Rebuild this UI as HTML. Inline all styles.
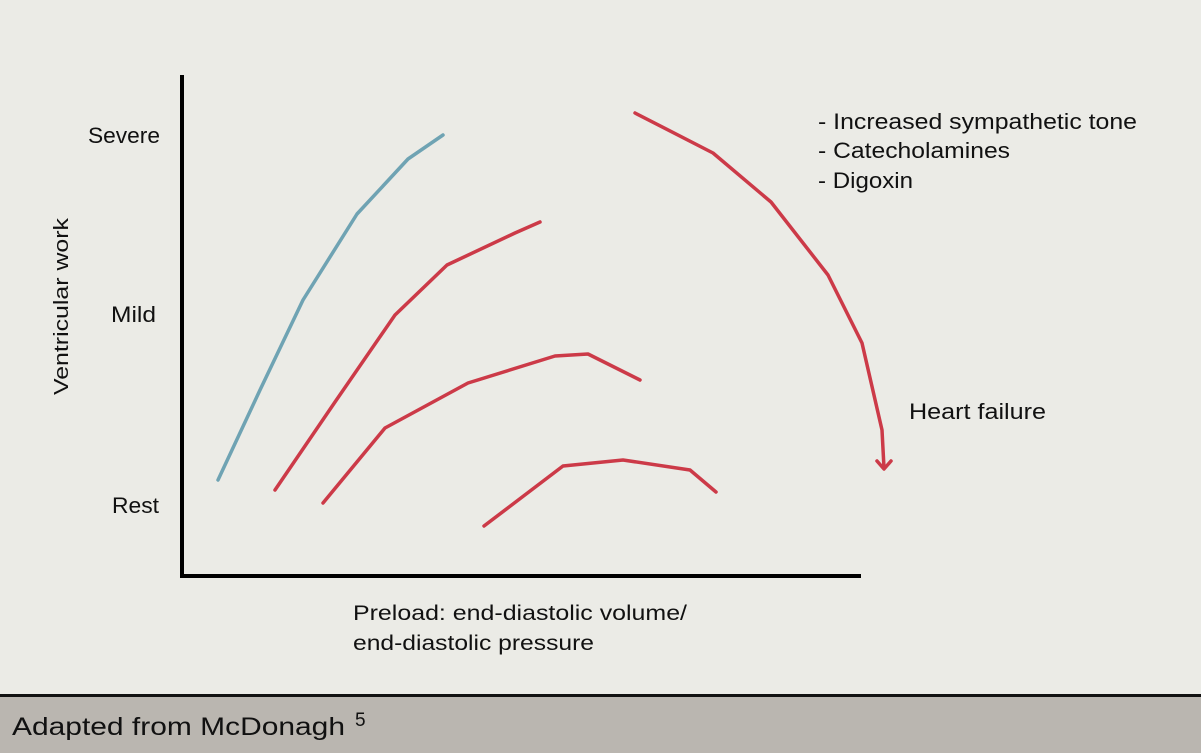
<!DOCTYPE html>
<html><head><style>
body{margin:0;width:1201px;height:753px;background:#ebebe6;overflow:hidden;font-family:"Liberation Sans",sans-serif;}
</style></head><body>
<svg width="1201" height="753" style="position:absolute;left:0;top:0">
<rect x="0" y="0" width="1201" height="753" fill="#ebebe6"/>
<rect x="0" y="694" width="1201" height="3" fill="#111"/>
<rect x="0" y="697" width="1201" height="56" fill="#bab6b0"/>
<line x1="182" y1="75" x2="182" y2="577" stroke="#000" stroke-width="4"/>
<line x1="180" y1="576" x2="861" y2="576" stroke="#000" stroke-width="4"/>
<g fill="none" stroke-width="3.5" stroke-linejoin="round" stroke-linecap="round">
<polyline stroke="#6fa3b3" points="218,480 260,390 303,300 357,214 408,159 443,135"/>
<polyline stroke="#cc3a48" points="275,490 335,402 395,315 447,265 515,233 540,222"/>
<polyline stroke="#cc3a48" points="323,503 385,428 468,383 555,356 588,354 640,380"/>
<polyline stroke="#cc3a48" points="484,526 563,466 623,460 690,470 716,492"/>
<polyline stroke="#cc3a48" points="635,113 713,153 771,202 828,275 862,343 882,430 884,468"/>
<polyline stroke="#cc3a48" points="877,461 884,469 891,461"/>
</g>
<g font-size="22" fill="#111">
<text x="88" y="143" textLength="72" lengthAdjust="spacingAndGlyphs">Severe</text>
<text x="111" y="322" textLength="45" lengthAdjust="spacingAndGlyphs">Mild</text>
<text x="112" y="513" textLength="47" lengthAdjust="spacingAndGlyphs">Rest</text>
<text transform="translate(68,395) rotate(-90)" font-size="20" textLength="177" lengthAdjust="spacingAndGlyphs">Ventricular work</text>
<text x="353" y="620" font-size="21" textLength="334" lengthAdjust="spacingAndGlyphs">Preload: end-diastolic volume/</text>
<text x="353" y="650" font-size="21" textLength="241" lengthAdjust="spacingAndGlyphs">end-diastolic pressure</text>
<text x="818" y="129" textLength="319" lengthAdjust="spacingAndGlyphs">- Increased sympathetic tone</text>
<text x="818" y="158" textLength="192" lengthAdjust="spacingAndGlyphs">- Catecholamines</text>
<text x="818" y="188" textLength="95" lengthAdjust="spacingAndGlyphs">- Digoxin</text>
<text x="909" y="419" textLength="137" lengthAdjust="spacingAndGlyphs">Heart failure</text>
<text x="12" y="735" font-size="25" textLength="333" lengthAdjust="spacingAndGlyphs">Adapted from McDonagh</text>
<text x="355" y="726" font-size="19">5</text>
</g>
</svg>
</body></html>
